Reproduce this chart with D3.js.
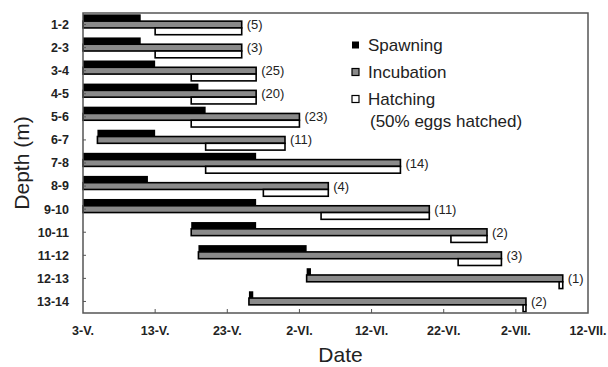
<!DOCTYPE html>
<html>
<head>
<meta charset="utf-8">
<script src="https://cdn.jsdelivr.net/npm/d3@7"></script>
<style>
  body { margin: 0; background: #fff; }
  svg { font-family: "Liberation Sans", Arial, sans-serif; }
</style>
</head>
<body>
<div id="chart"></div>
<script>
const width = 608;
const height = 367;
const margin = { top: 13, right: 20, bottom: 54, left: 83 };

// depth classes (m)
const depths = ['1-2', '2-3', '3-4', '4-5', '5-6', '6-7', '7-8', '8-9', '9-10', '10-11', '11-12', '12-13', '13-14'];
// days counted from 3 May
const spawnStart = [0, 0, 0, 0, 0, 2, 0, 0, 0, 15, 16, 31, 23];
const spawnEnd = [8, 8, 10, 16, 17, 10, 24, 9, 24, 24, 31, 31.6, 23.6];
const incubStart = [0, 0, 0, 0, 0, 2, 0, 0, 0, 15, 16, 31, 23];
const incubEnd = [22, 22, 24, 24, 30, 28, 44, 34, 48, 56, 58, 66.5, 61.4];
const hatchStart = [10, 10, 15, 15, 15, 17, 17, 25, 33, 51, 52, 66, 61];
const hatchEnd = [22, 22, 24, 24, 30, 28, 44, 34, 48, 56, 58, 66.5, 61.4];
const counts = [5, 3, 25, 20, 23, 11, 14, 4, 11, 2, 3, 1, 2];

const tickDays = [0, 10, 20, 30, 40, 50, 60, 70];
const tickLabels = ['3-V.', '13-V.', '23-V.', '2-VI.', '12-VI.', '22-VI.', '2-VII.', '12-VII.'];

const series = ['Spawning', 'Incubation', 'Hatching'];
const fills = { Spawning: '#000', Incubation: '#8a8a8a', Hatching: '#fff' };

const svg = d3.select('#chart').append('svg').attr('width', width).attr('height', height);

const x = d3.scaleLinear().domain([0, 70]).range([margin.left, width - margin.right]);
const y = d3.scaleBand().domain(depths).range([margin.top, height - margin.bottom]);
const sub = d3.scaleBand().domain(series).range([0, y.bandwidth()]).paddingOuter(0.2);

const x0 = x(0), x1 = x(70), yTop = margin.top, yBot = height - margin.bottom;

// build rows for the bars
const rows = [];
depths.forEach((d, i) => {
  rows.push({ depth: d, s: 'Spawning', a: spawnStart[i], b: spawnEnd[i] });
  rows.push({ depth: d, s: 'Incubation', a: incubStart[i], b: incubEnd[i] });
  rows.push({ depth: d, s: 'Hatching', a: hatchStart[i], b: hatchEnd[i] });
});

svg.append('g').selectAll('rect')
  .data(rows)
  .enter()
  .append('rect')
  .attr('x', d => x(d.a))
  .attr('y', d => y(d.depth) + sub(d.s))
  .attr('width', d => x(d.b) - x(d.a))
  .attr('height', sub.bandwidth())
  .attr('fill', d => fills[d.s])
  .attr('stroke', '#000')
  .attr('stroke-width', d => d.s === 'Spawning' ? 0 : 1.6);

// sample size labels
svg.append('g').selectAll('text')
  .data(depths)
  .enter()
  .append('text')
  .attr('x', (d, i) => x(incubEnd[i]) + 5)
  .attr('y', d => y(d) + sub('Incubation') + sub.bandwidth() / 2)
  .attr('dy', '0.35em')
  .attr('font-size', 13)
  .attr('fill', '#222')
  .text((d, i) => `(${counts[i]})`);

// plot frame
svg.append('rect')
  .attr('x', x0).attr('y', yTop)
  .attr('width', x1 - x0).attr('height', yBot - yTop)
  .attr('fill', 'none').attr('stroke', '#555').attr('stroke-width', 1.5);

// x ticks + labels
const xAxis = svg.append('g');
xAxis.selectAll('line')
  .data(tickDays.slice(1, -1))
  .enter()
  .append('line')
  .attr('x1', d => x(d)).attr('x2', d => x(d))
  .attr('y1', yBot).attr('y2', yBot - 4)
  .attr('stroke', '#555');
xAxis.selectAll('text')
  .data(tickDays)
  .enter()
  .append('text')
  .attr('x', d => Math.min(x(d), 588))
  .attr('y', yBot + 22)
  .attr('text-anchor', 'middle')
  .attr('font-size', 12.5)
  .attr('font-weight', 'bold')
  .attr('fill', '#222')
  .text((d, i) => tickLabels[i]);

// y ticks + labels
const yAxis = svg.append('g');
yAxis.selectAll('line')
  .data(depths)
  .enter()
  .append('line')
  .attr('x1', x0).attr('x2', x0 + 3)
  .attr('y1', d => y(d) + y.bandwidth() / 2)
  .attr('y2', d => y(d) + y.bandwidth() / 2)
  .attr('stroke', '#555');
yAxis.selectAll('text')
  .data(depths)
  .enter()
  .append('text')
  .attr('x', 69)
  .attr('y', d => y(d) + y.bandwidth() / 2)
  .attr('dy', '0.35em')
  .attr('text-anchor', 'end')
  .attr('font-size', 12.5)
  .attr('font-weight', 'bold')
  .attr('fill', '#222')
  .text(d => d);

// axis titles
svg.append('text')
  .attr('x', (x0 + x1) / 2 + 5)
  .attr('y', 362)
  .attr('text-anchor', 'middle')
  .attr('font-size', 21)
  .attr('fill', '#222')
  .text('Date');
svg.append('text')
  .attr('transform', `translate(29, ${(yTop + yBot) / 2}) rotate(-90)`)
  .attr('text-anchor', 'middle')
  .attr('font-size', 21)
  .attr('fill', '#222')
  .text('Depth (m)');

// legend
const legend = svg.append('g').attr('transform', 'translate(352, 45)');
const legendY = [0, 27, 54];
series.forEach((s, i) => {
  legend.append('rect')
    .attr('x', 0).attr('y', legendY[i] - 3.5)
    .attr('width', 7).attr('height', 7)
    .attr('fill', fills[s])
    .attr('stroke', '#000').attr('stroke-width', s === 'Spawning' ? 0 : 1.2);
  legend.append('text')
    .attr('x', 16).attr('y', legendY[i])
    .attr('dy', '0.35em')
    .attr('font-size', 17)
    .attr('fill', '#222')
    .text(s);
});
legend.append('text')
  .attr('x', 18).attr('y', 76)
  .attr('dy', '0.35em')
  .attr('font-size', 17)
  .attr('fill', '#222')
  .text('(50% eggs hatched)');
</script>
</body>
</html>
